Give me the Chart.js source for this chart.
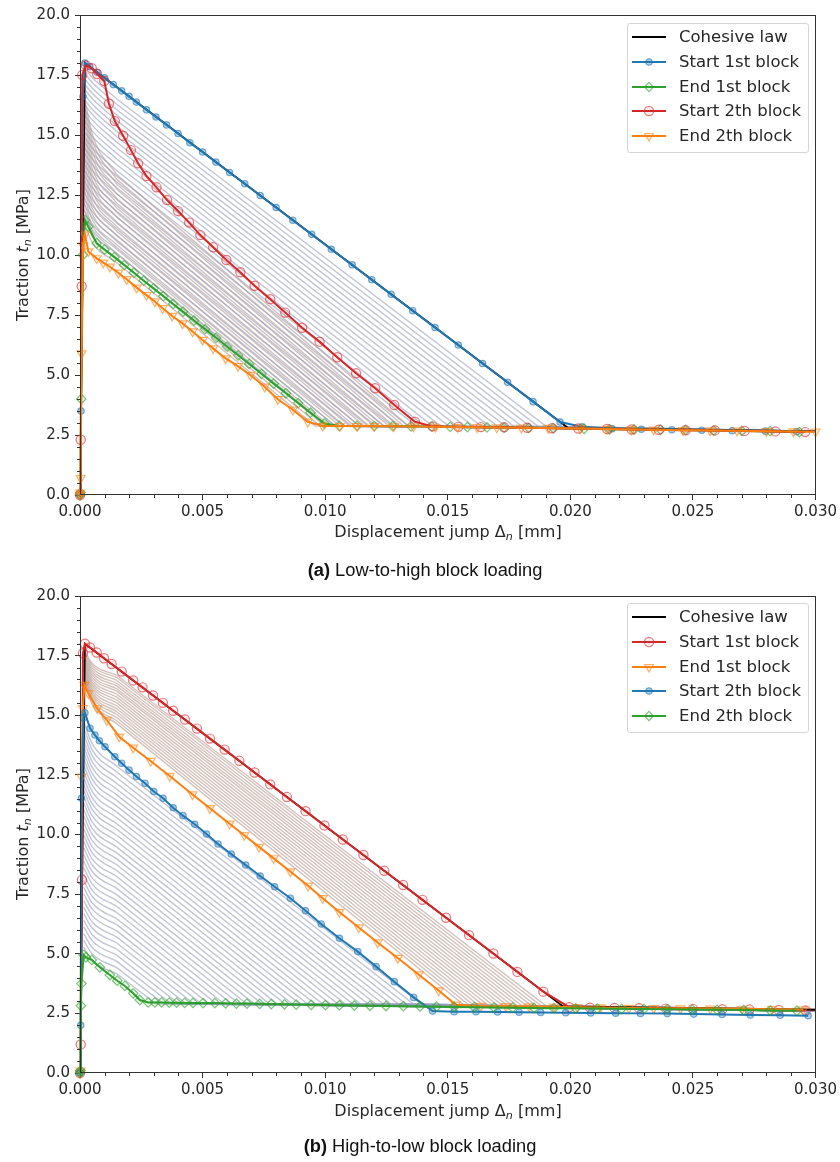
<!DOCTYPE html>
<html lang="en">
<head>
<meta charset="UTF-8">
<title>Block loading traction-separation</title>
<script src="https://cdn.jsdelivr.net/npm/chart.js"></script>
<style>
  body { margin: 0; background: #fff; font-family: "DejaVu Sans", sans-serif; color: #262626; }
  #page { position: relative; width: 840px; height: 1162px; overflow: hidden; }
  canvas { position: absolute; left: 0; }
  .ytitle, .xtitle, .caption { position: absolute; white-space: nowrap; }
  .ytitle { font-size: 16px; transform: translate(-50%, -50%) rotate(-90deg); }
  .xtitle { font-size: 16px; transform: translate(-50%, -50%); }
  .caption { font-family: "Liberation Sans", Arial, sans-serif; font-size: 18.3px; color: #111; transform: translate(-50%, -50%); }
  .sub { font-size: 0.7em; position: relative; top: 0.3em; font-style: italic; }
  .legend { position: absolute; left: 627px; width: 182px; height: 130px; box-sizing: border-box;
            border: 1px solid #d5d5d5; border-radius: 3px; background: rgba(255,255,255,0.85); font-size: 16.5px; }
  .legend .row { position: absolute; left: 0; height: 20px; line-height: 20px; width: 180px; }
  .legend svg { position: absolute; left: 4px; top: 3px; }
  .legend span { position: absolute; left: 51px; top: 0; white-space: nowrap; }
</style>
</head>
<body>
<div id="page">
  <canvas id="chartA" width="840" height="540" style="top:0"></canvas>
  <canvas id="chartB" width="840" height="540" style="top:581px"></canvas>

  <div class="ytitle" style="left:22px; top:255px">Traction <i>t</i><span class="sub">n</span> [MPa]</div>
  <div class="xtitle" style="left:448px; top:531px">Displacement jump Δ<span class="sub">n</span> [mm]</div>
  <div class="caption" style="left:425px; top:570px"><b>(a)</b> Low-to-high block loading</div>

  <div class="ytitle" style="left:22px; top:834px">Traction <i>t</i><span class="sub">n</span> [MPa]</div>
  <div class="xtitle" style="left:448px; top:1110px">Displacement jump Δ<span class="sub">n</span> [mm]</div>
  <div class="caption" style="left:420px; top:1146px"><b>(b)</b> High-to-low block loading</div>

  <div class="legend" id="legendA" style="top:23px"></div>
  <div class="legend" id="legendB" style="top:603px"></div>
</div>

<script>
// ---------- (a) low-to-high block loading ----------
var cohesiveXA = [0, 0.0002, 0.0199, 0.030];
var cohesiveYA = [0, 18.0, 2.80, 2.65];

var aStart1X = [0, 0.00004, 0.00012, 0.0002, 0.0004, 0.0007, 0.0010, 0.00136, 0.0017, 0.0020, 0.0023, 0.00271, 0.0031, 0.00353, 0.0040, 0.00448, 0.0050, 0.00554, 0.0061, 0.00672, 0.00735, 0.0080, 0.00868, 0.00945, 0.01025, 0.0111, 0.0119, 0.01269, 0.01357, 0.01448, 0.01543, 0.01642, 0.01744, 0.01848, 0.01958, 0.02047, 0.0217, 0.0229, 0.02414, 0.02536, 0.0266, 0.02796, 0.02923];
var aStart1Y = [0, 3.5, 16.6, 18.0, 17.85, 17.61, 17.38, 17.10, 16.84, 16.61, 16.37, 16.05, 15.75, 15.42, 15.06, 14.68, 14.29, 13.87, 13.44, 12.97, 12.48, 11.98, 11.45, 10.86, 10.24, 9.59, 8.97, 8.36, 7.68, 6.98, 6.25, 5.48, 4.70, 3.89, 3.04, 2.84, 2.76, 2.74, 2.72, 2.70, 2.68, 2.66, 2.64];

var aEnd1X = [0, 0.00002, 0.00005, 0.00012, 0.0002, 0.00034, 0.00068, 0.0010, 0.0014, 0.0018, 0.0022, 0.0026, 0.0030, 0.0034, 0.0038, 0.0042, 0.00465, 0.0051, 0.00555, 0.0060, 0.00645, 0.0069, 0.0074, 0.0079, 0.0084, 0.0089, 0.0094, 0.00997, 0.01058, 0.0113, 0.0120, 0.01275, 0.0135, 0.01435, 0.0151, 0.0158, 0.0166, 0.0173, 0.0183, 0.0193, 0.02056, 0.0216, 0.0226, 0.02368, 0.0247, 0.02585, 0.02699, 0.02815, 0.02934];
var aEnd1Y = [0, 0.1, 4.0, 10.0, 11.45, 11.18, 10.49, 10.23, 9.91, 9.58, 9.26, 8.93, 8.61, 8.29, 7.96, 7.64, 7.27, 6.91, 6.55, 6.18, 5.82, 5.46, 5.05, 4.64, 4.24, 3.83, 3.43, 2.98, 2.88, 2.88, 2.87, 2.87, 2.86, 2.85, 2.84, 2.83, 2.82, 2.81, 2.80, 2.79, 2.76, 2.74, 2.73, 2.72, 2.71, 2.69, 2.67, 2.66, 2.62];

var aStart2X = [0, 0.00003, 0.00007, 0.00009, 0.00024, 0.00048, 0.0007, 0.00099, 0.00118, 0.00142, 0.00176, 0.00208, 0.00237, 0.00271, 0.00312, 0.00355, 0.0040, 0.00445, 0.00491, 0.00543, 0.00597, 0.00654, 0.00712, 0.00776, 0.00837, 0.00906, 0.00977, 0.01049, 0.01126, 0.01204, 0.01282, 0.01366, 0.01438, 0.01543, 0.01635, 0.0173, 0.01824, 0.01925, 0.02032, 0.0215, 0.0225, 0.02361, 0.0247, 0.02589, 0.02711, 0.02836, 0.02958];
var aStart2Y = [0, 2.3, 8.7, 17.5, 17.9, 17.78, 17.54, 17.25, 16.3, 15.58, 14.97, 14.37, 13.82, 13.29, 12.82, 12.29, 11.83, 11.35, 10.83, 10.32, 9.79, 9.28, 8.72, 8.16, 7.6, 6.97, 6.39, 5.74, 5.07, 4.45, 3.75, 3.05, 2.86, 2.84, 2.83, 2.82, 2.80, 2.78, 2.77, 2.75, 2.73, 2.72, 2.70, 2.69, 2.67, 2.65, 2.62];

var aEnd2X = [0, 0.00001, 0.00003, 0.00006, 0.00012, 0.0002, 0.00034, 0.00068, 0.00095, 0.00122, 0.00156, 0.0019, 0.00231, 0.00271, 0.00305, 0.00337, 0.00376, 0.00418, 0.00459, 0.0050, 0.00543, 0.00594, 0.00644, 0.00695, 0.00753, 0.00807, 0.00868, 0.00929, 0.0099, 0.0106, 0.0113, 0.0120, 0.0128, 0.0136, 0.0145, 0.0154, 0.0162, 0.0170, 0.0180, 0.0191, 0.0204, 0.0215, 0.0225, 0.0234, 0.0246, 0.0257, 0.0268, 0.0280, 0.0291, 0.0300];
var aEnd2Y = [0, 0.1, 0.7, 5.9, 10.4, 10.85, 10.15, 9.86, 9.68, 9.51, 9.26, 8.99, 8.64, 8.33, 8.06, 7.78, 7.46, 7.15, 6.81, 6.46, 6.11, 5.69, 5.37, 5.0, 4.51, 3.99, 3.55, 3.05, 2.88, 2.87, 2.87, 2.87, 2.86, 2.85, 2.84, 2.83, 2.82, 2.81, 2.80, 2.79, 2.77, 2.75, 2.73, 2.72, 2.70, 2.69, 2.68, 2.66, 2.65, 2.64];

// intermediate cycles: [peak, t at 0.0005, t at 0.0015, jump where plateau starts]
var greyCols = [0.00015, 0.0005, 0.0015];
var aPlateau = [2.87, 2.66];
var aGrey1 = [
  [17.81, 17.40, 16.50, 0.01900], [17.60, 17.19, 16.28, 0.01867], [17.38, 16.96, 16.05, 0.01834],
  [17.17, 16.74, 15.83, 0.01801], [16.95, 16.52, 15.60, 0.01768], [16.73, 16.29, 15.37, 0.01735],
  [16.52, 16.07, 15.15, 0.01702], [16.31, 15.86, 14.93, 0.01669], [16.09, 15.63, 14.70, 0.01636],
  [15.87, 15.40, 14.47, 0.01603], [15.64, 15.16, 14.23, 0.01570], [15.42, 14.94, 14.00, 0.01537],
  [15.19, 14.70, 13.76, 0.01504], [14.96, 14.46, 13.52, 0.01471], [14.74, 14.24, 13.28, 0.01438],
  [14.51, 14.00, 13.04, 0.01405], [14.28, 13.76, 12.80, 0.01372], [14.04, 13.52, 12.55, 0.01339],
  [13.81, 13.28, 12.31, 0.01306], [13.57, 13.03, 12.06, 0.01273], [13.34, 12.80, 11.82, 0.01240],
  [13.11, 12.56, 11.58, 0.01207], [12.87, 12.31, 11.33, 0.01174], [12.63, 12.06, 11.08, 0.01141],
  [12.38, 11.81, 10.82, 0.01108], [12.14, 11.56, 10.57, 0.01075], [11.89, 11.30, 10.31, 0.01042],
  [11.65, 11.06, 10.06, 0.01010]
];
var aGrey2 = [
  [16.72, 15.03, 13.35, 0.0134], [16.44, 14.79, 13.15, 0.0132], [16.16, 14.55, 12.95, 0.0130],
  [15.88, 14.31, 12.74, 0.0128], [15.60, 14.07, 12.55, 0.0126], [15.31, 13.83, 12.35, 0.0124],
  [15.03, 13.59, 12.16, 0.0122], [14.75, 13.35, 11.96, 0.0120], [14.47, 13.12, 11.77, 0.0118],
  [14.19, 12.88, 11.58, 0.0116], [13.91, 12.64, 11.37, 0.0114], [13.63, 12.40, 11.18, 0.0112],
  [13.35, 12.17, 10.99, 0.0110], [13.07, 11.94, 10.81, 0.0108], [12.79, 11.70, 10.62, 0.0106],
  [12.50, 11.47, 10.43, 0.0104], [12.22, 11.23, 10.24, 0.0102], [11.94, 11.00, 10.05, 0.0100],
  [11.66, 10.76, 9.86, 0.0098], [11.38, 10.53, 9.68, 0.0096]
];

// ---------- (b) high-to-low block loading ----------
var cohesiveXB = [0, 0.0002, 0.0197, 0.030];
var cohesiveYB = [0, 18.0, 2.79, 2.65];

var bStart1X = [0, 0.00003, 0.00008, 0.00012, 0.0002, 0.00041, 0.00068, 0.00098, 0.00129, 0.0017, 0.00217, 0.00255, 0.00298, 0.00338, 0.0038, 0.00428, 0.00477, 0.0053, 0.0059, 0.0065, 0.00712, 0.00776, 0.00844, 0.0092, 0.00997, 0.01072, 0.01156, 0.01241, 0.01318, 0.01397, 0.01493, 0.01587, 0.01686, 0.01784, 0.0189, 0.01995, 0.0208, 0.0218, 0.0228, 0.0239, 0.0250, 0.0262, 0.0273, 0.0285, 0.0296];
var bStart1Y = [0, 1.2, 8.1, 17.6, 18.0, 17.84, 17.63, 17.39, 17.15, 16.83, 16.46, 16.17, 15.83, 15.52, 15.19, 14.82, 14.44, 14.02, 13.56, 13.09, 12.60, 12.10, 11.57, 10.98, 10.38, 9.79, 9.14, 8.48, 7.88, 7.26, 6.51, 5.78, 5.01, 4.24, 3.41, 2.76, 2.74, 2.73, 2.72, 2.70, 2.69, 2.67, 2.66, 2.64, 2.62];

var bEnd1X = [0, 0.00002, 0.00006, 0.00012, 0.00018, 0.00034, 0.0007, 0.00109, 0.0016, 0.00217, 0.00288, 0.00366, 0.00459, 0.0053, 0.0061, 0.0067, 0.0073, 0.0079, 0.00858, 0.0093, 0.0099, 0.01058, 0.01137, 0.01214, 0.01296, 0.01381, 0.01463, 0.01533, 0.01635, 0.01737, 0.01832, 0.01933, 0.02028, 0.02124, 0.02239, 0.0234, 0.02449, 0.02571, 0.027, 0.02822, 0.0295];
var bEnd1Y = [0, 0.1, 12.42, 15.3, 16.27, 15.92, 15.29, 14.8, 14.1, 13.64, 13.08, 12.45, 11.68, 11.1, 10.45, 9.97, 9.48, 9.0, 8.45, 7.85, 7.33, 6.75, 6.1, 5.47, 4.82, 4.13, 3.46, 2.86, 2.81, 2.80, 2.79, 2.78, 2.76, 2.75, 2.73, 2.72, 2.71, 2.70, 2.69, 2.67, 2.66];

var bStart2X = [0, 0.00003, 0.00006, 0.00014, 0.0002, 0.00041, 0.00061, 0.00079, 0.00102, 0.00142, 0.0017, 0.002, 0.0023, 0.00265, 0.00301, 0.00339, 0.0038, 0.0042, 0.00468, 0.00516, 0.00563, 0.00617, 0.00676, 0.00735, 0.00794, 0.00858, 0.0092, 0.00984, 0.01058, 0.01133, 0.01208, 0.01282, 0.01361, 0.01438, 0.01526, 0.01615, 0.01703, 0.01791, 0.01879, 0.01981, 0.02083, 0.02185, 0.02286, 0.02395, 0.02503, 0.02619, 0.02734, 0.02856, 0.0297];
var bStart2Y = [0, 2.0, 11.52, 14.9, 15.1, 14.45, 14.17, 13.93, 13.68, 13.26, 12.99, 12.7, 12.43, 12.15, 11.8, 11.52, 11.12, 10.79, 10.43, 10.02, 9.6, 9.18, 8.72, 8.26, 7.81, 7.33, 6.8, 6.25, 5.65, 5.09, 4.46, 3.83, 3.17, 2.6, 2.57, 2.57, 2.56, 2.55, 2.54, 2.53, 2.52, 2.51, 2.50, 2.49, 2.47, 2.45, 2.43, 2.42, 2.40];

var bEnd2X = [0, 0.00002, 0.00004, 0.00006, 0.00015, 0.00024, 0.00048, 0.00081, 0.00122, 0.00152, 0.00183, 0.00217, 0.00244, 0.00278, 0.00305, 0.00333, 0.00364, 0.00394, 0.00427, 0.00461, 0.00502, 0.0055, 0.00594, 0.00638, 0.00681, 0.00733, 0.0078, 0.00834, 0.00882, 0.00943, 0.01001, 0.01058, 0.01119, 0.01183, 0.01248, 0.01319, 0.01387, 0.01454, 0.01526, 0.01608, 0.01689, 0.01764, 0.01852, 0.01933, 0.02022, 0.0211, 0.02209, 0.023, 0.02395, 0.02497, 0.02599, 0.02707, 0.02816, 0.02924];
var bEnd2Y = [0, 0.1, 2.82, 3.75, 4.95, 4.85, 4.74, 4.43, 4.11, 3.87, 3.65, 3.34, 3.06, 2.96, 2.96, 2.96, 2.95, 2.95, 2.94, 2.94, 2.93, 2.93, 2.92, 2.91, 2.91, 2.90, 2.89, 2.88, 2.87, 2.86, 2.85, 2.84, 2.83, 2.82, 2.81, 2.80, 2.79, 2.78, 2.77, 2.76, 2.75, 2.74, 2.73, 2.72, 2.71, 2.70, 2.69, 2.68, 2.67, 2.66, 2.65, 2.64, 2.62, 2.61];

var bPlateau1 = [2.82, 2.66];
var bPlateau2 = [2.90, 2.60];
var bGrey1 = [
  [17.77, 17.17, 16.68, 0.01900], [17.69, 17.08, 16.58, 0.01881], [17.61, 16.98, 16.46, 0.01861],
  [17.53, 16.88, 16.34, 0.01842], [17.46, 16.78, 16.23, 0.01822], [17.38, 16.68, 16.11, 0.01803],
  [17.30, 16.59, 16.01, 0.01784], [17.22, 16.48, 15.88, 0.01764], [17.14, 16.38, 15.76, 0.01745],
  [17.06, 16.28, 15.64, 0.01725], [16.98, 16.18, 15.52, 0.01706], [16.90, 16.07, 15.39, 0.01687],
  [16.82, 15.97, 15.27, 0.01667], [16.74, 15.87, 15.15, 0.01648], [16.67, 15.77, 15.03, 0.01628],
  [16.59, 15.66, 14.90, 0.01609], [16.51, 15.55, 14.77, 0.01590], [16.43, 15.45, 14.65, 0.01570]
];
var bGrey2 = [
  [14.74, 13.80, 12.86, 0.01390], [14.48, 13.55, 12.62, 0.01359], [14.22, 13.30, 12.38, 0.01328],
  [13.95, 13.05, 12.14, 0.01297], [13.69, 12.80, 11.90, 0.01267], [13.43, 12.55, 11.66, 0.01236],
  [13.18, 12.31, 11.43, 0.01205], [12.92, 12.06, 11.19, 0.01174], [12.65, 11.80, 10.94, 0.01143],
  [12.38, 11.54, 10.70, 0.01112], [12.11, 11.28, 10.45, 0.01081], [11.86, 11.04, 10.22, 0.01051],
  [11.59, 10.78, 9.97, 0.01020], [11.32, 10.52, 9.72, 0.00989], [11.05, 10.26, 9.47, 0.00958],
  [10.78, 10.00, 9.23, 0.00927], [10.51, 9.74, 8.98, 0.00896], [10.24, 9.48, 8.73, 0.00865],
  [9.98, 9.23, 8.49, 0.00835], [9.71, 8.97, 8.24, 0.00804], [9.44, 8.71, 7.99, 0.00773],
  [9.16, 8.45, 7.74, 0.00742], [8.88, 8.18, 7.48, 0.00711], [8.61, 7.92, 7.23, 0.00680],
  [8.34, 7.66, 6.98, 0.00649], [8.07, 7.40, 6.73, 0.00619], [7.79, 7.13, 6.47, 0.00588],
  [7.51, 6.87, 6.22, 0.00557], [7.23, 6.60, 5.96, 0.00526], [6.95, 6.33, 5.70, 0.00495],
  [6.68, 6.07, 5.45, 0.00464], [6.40, 5.80, 5.19, 0.00433], [6.13, 5.54, 4.94, 0.00403],
  [5.84, 5.26, 4.68, 0.00372], [5.56, 4.99, 4.42, 0.00341], [5.28, 4.72, 4.16, 0.00310]
];

// ---------- styling ----------
var C = { blue: '31,119,180', orange: '255,127,14', green: '44,160,44', red: '214,39,40' };
var greyBlue = 'rgba(150,158,190,0.6)';
var greyBrown = 'rgba(180,150,140,0.58)';
var MK = {
  dot: { pointStyle: 'circle', pointRadius: 3.2, fill: 0.35, rot: 0 },
  ring: { pointStyle: 'circle', pointRadius: 4.6, fill: 0.08, rot: 0 },
  diamond: { pointStyle: 'rectRot', pointRadius: 4.8, fill: 0.08, rot: 0 },
  triDown: { pointStyle: 'triangle', pointRadius: 5.2, fill: 0.08, rot: 180 }
};

function pts(xs, ys) {
  return xs.map(function (x, i) { return { x: x, y: ys[i] }; });
}

function seriesSet(label, xs, ys, rgb, mk, order) {
  return {
    label: label, data: pts(xs, ys), showLine: true, order: order, clip: false,
    borderColor: 'rgb(' + rgb + ')', borderWidth: 2,
    pointStyle: mk.pointStyle, pointRadius: mk.pointRadius, pointRotation: mk.rot,
    pointBorderColor: 'rgba(' + rgb + ',0.6)', pointBackgroundColor: 'rgba(' + rgb + ',' + mk.fill + ')',
    pointBorderWidth: 1.2
  };
}

function cohesiveSet(xs, ys) {
  return { label: 'Cohesive law', data: pts(xs, ys), showLine: true, order: 6,
           borderColor: '#000', borderWidth: 1.8, pointRadius: 0 };
}

// each cycle: a smooth head (monotone spline through the first three readings)
// followed by the straight softening branch and the residual plateau
function greySets(rows, plateau, color) {
  var out = [];
  rows.forEach(function (r) {
    out.push({
      data: [{ x: greyCols[0], y: r[0] }, { x: greyCols[1], y: r[1] }, { x: greyCols[2], y: r[2] }],
      showLine: true, cubicInterpolationMode: 'monotone', borderColor: color, borderWidth: 1.4,
      pointRadius: 0, order: 10
    });
    out.push({
      data: [{ x: greyCols[2], y: r[2] }, { x: r[3], y: plateau[0] }, { x: 0.030, y: plateau[1] }],
      showLine: true, borderColor: color, borderWidth: 1.4, pointRadius: 0, order: 10
    });
  });
  return out;
}

// minor ticks + frame, placed through the chart's own scales
var xMinor = [], yMinor = [];
for (var i = 1; i < 30; i++) if (i % 5) xMinor.push(i / 1000);
for (var j = 1; j < 40; j++) if (j % 5) yMinor.push(j / 2);

var axesDecor = {
  id: 'axesDecor',
  afterDraw: function (chart) {
    var ctx = chart.ctx, a = chart.chartArea, sx = chart.scales.x, sy = chart.scales.y;
    ctx.save();
    ctx.strokeStyle = '#333';
    ctx.lineWidth = 1;
    ctx.beginPath();
    xMinor.forEach(function (v) {
      var px = Math.round(sx.getPixelForValue(v)) + 0.5;
      ctx.moveTo(px, a.bottom); ctx.lineTo(px, a.bottom + 3);
    });
    yMinor.forEach(function (v) {
      var py = Math.round(sy.getPixelForValue(v)) + 0.5;
      ctx.moveTo(a.left, py); ctx.lineTo(a.left - 3, py);
    });
    ctx.stroke();
    ctx.strokeRect(Math.round(a.left) + 0.5, Math.round(a.top) + 0.5,
                   Math.round(a.width) - 1, Math.round(a.height) - 1);
    ctx.restore();
  }
};

var tickFont = { family: 'DejaVu Sans', size: 15 };

function makeChart(id, datasets, xHeight) {
  return new Chart(document.getElementById(id), {
    type: 'scatter',
    data: { datasets: datasets },
    options: {
      responsive: false, animation: false, devicePixelRatio: 1, events: [],
      layout: { padding: { left: 0, right: 23, top: 15, bottom: 0 } },
      plugins: { legend: { display: false }, tooltip: { enabled: false } },
      scales: {
        x: {
          type: 'linear', min: 0, max: 0.03,
          border: { display: false },
          grid: { drawOnChartArea: false, drawTicks: true, tickLength: 5, tickColor: '#333' },
          ticks: { stepSize: 0.005, autoSkip: false, maxRotation: 0, padding: 3, color: '#262626', font: tickFont,
                   callback: function (v) { return v.toFixed(3); } },
          afterFit: function (s) { s.height = xHeight; }
        },
        y: {
          type: 'linear', min: 0, max: 20,
          border: { display: false },
          grid: { drawOnChartArea: false, drawTicks: true, tickLength: 5, tickColor: '#333' },
          ticks: { stepSize: 2.5, autoSkip: false, padding: 5, color: '#262626', font: tickFont,
                   callback: function (v) { return v.toFixed(1); } },
          afterFit: function (s) { s.width = 80; }
        }
      }
    },
    plugins: [axesDecor]
  });
}

var dataA = [
  cohesiveSet(cohesiveXA, cohesiveYA),
  seriesSet('Start 1st block', aStart1X, aStart1Y, C.blue, MK.dot, 5),
  seriesSet('End 1st block', aEnd1X, aEnd1Y, C.green, MK.diamond, 4),
  seriesSet('Start 2th block', aStart2X, aStart2Y, C.red, MK.ring, 3),
  seriesSet('End 2th block', aEnd2X, aEnd2Y, C.orange, MK.triDown, 2)
].concat(greySets(aGrey1, aPlateau, greyBlue), greySets(aGrey2, aPlateau, greyBrown));

var dataB = [
  cohesiveSet(cohesiveXB, cohesiveYB),
  seriesSet('Start 1st block', bStart1X, bStart1Y, C.red, MK.ring, 5),
  seriesSet('End 1st block', bEnd1X, bEnd1Y, C.orange, MK.triDown, 4),
  seriesSet('Start 2th block', bStart2X, bStart2Y, C.blue, MK.dot, 3),
  seriesSet('End 2th block', bEnd2X, bEnd2Y, C.green, MK.diamond, 2)
].concat(greySets(bGrey1, bPlateau1, greyBrown), greySets(bGrey2, bPlateau2, greyBlue));

makeChart('chartA', dataA, 45);
makeChart('chartB', dataB, 48);

// legends as real text, built from the same dataset list
function markerSvg(ds) {
  var col = ds.borderColor, s = '';
  var pc = ds.pointBorderColor, pf = ds.pointBackgroundColor;
  if (ds.pointRadius) {
    if (ds.pointStyle === 'circle') {
      s = '<circle cx="17" cy="7" r="' + ds.pointRadius + '" fill="' + pf + '" stroke="' + pc + '" stroke-width="1.2"/>';
    } else if (ds.pointStyle === 'rectRot') {
      s = '<polygon points="17,2.4 21.6,7 17,11.6 12.4,7" fill="' + pf + '" stroke="' + pc + '" stroke-width="1.2"/>';
    } else {
      s = '<polygon points="12.7,4.5 21.3,4.5 17,12" fill="' + pf + '" stroke="' + pc + '" stroke-width="1.2"/>';
    }
  }
  return '<svg width="34" height="14"><line x1="0" y1="7" x2="34" y2="7" stroke="' + col + '" stroke-width="2"/>' + s + '</svg>';
}

function buildLegend(el, sets) {
  var html = '';
  sets.slice(0, 5).forEach(function (ds, k) {
    html += '<div class="row" style="top:' + (3 + k * 24.75) + 'px">' + markerSvg(ds) + '<span>' + ds.label + '</span></div>';
  });
  document.getElementById(el).innerHTML = html;
}
buildLegend('legendA', dataA);
buildLegend('legendB', dataB);
</script>
</body>
</html>
